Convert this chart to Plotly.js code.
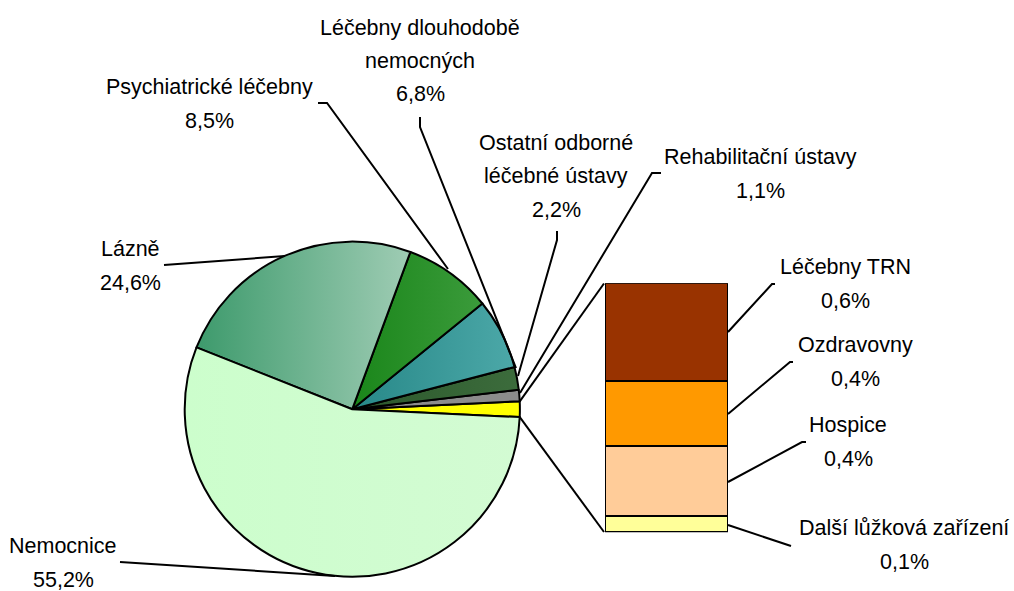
<!DOCTYPE html>
<html>
<head>
<meta charset="utf-8">
<script src="https://cdn.plot.ly/plotly-3.0.1.min.js"></script>
<style>
  html, body { margin: 0; padding: 0; background: #ffffff; }
  #chart { width: 1014px; height: 591px; }
</style>
</head>
<body>
<div id="chart"></div>
<script>
// ---- data ----
const pieLabels = ['Další (rozpad)', 'Rehabilitační ústavy', 'Ostatní odborné léčebné ústavy',
                   'Léčebny dlouhodobě nemocných', 'Psychiatrické léčebny', 'Lázně', 'Nemocnice'];
const pieValues = [null, 1.1, 2.2, 6.8, 8.5, 24.6, 55.2];   // first = sum of bar breakdown
const pieTextLines = [null, ['Rehabilitační ústavy'], ['Ostatní odborné', 'léčebné ústavy'],
                      ['Léčebny dlouhodobě', 'nemocných'], ['Psychiatrické léčebny'], ['Lázně'], ['Nemocnice']];

const barLabels = ['Další lůžková zařízení', 'Hospice', 'Ozdravovny', 'Léčebny TRN'];   // bottom → top
const barValues = [0.10, 0.42, 0.39, 0.59];

// ---- styles ----
const pieColors = ['#ffff00', '#8c8c8c', '#335f33', '#3a9b9b', '#2a8f2a', '#6db48f', '#ccffcc'];
const pieGrad = [null, null, ['#2c582c', '#3c6c3c'], ['#278888', '#4ca8a8'], ['#1a861a', '#3b9b3b'],
                 ['#3d9a6c', '#9fccb4'], ['#ccfecc', '#d3fbd3']];
const barColors = ['#ffff99', '#ffcc99', '#ff9900', '#993300'];

const W = 1014, H = 591;
const px = x => x / W;
const py = y => 1 - y / H;
const FONT = "'Liberation Sans Narrow', 'Arial Narrow', 'Liberation Sans', Arial, sans-serif";
const FSIZE = 21.5, LINE = 33.5, LW = 2;
const fmt = v => v.toFixed(1).replace('.', ',') + '%';

const restTotal = barValues.reduce((a, b) => a + b, 0);
const values = pieValues.slice();
values[0] = restTotal;
const grandTotal = values.reduce((a, b) => a + b, 0);
const rot = 90 - (restTotal / grandTotal) * 360 / 2;

// pie geometry (pixel)
const cx = 352.3, cy = 409.2, r = 167.6;

const traces = [{
  type: 'pie',
  labels: pieLabels,
  values: values,
  sort: false,
  direction: 'counterclockwise',
  rotation: rot,
  textinfo: 'none',
  hoverinfo: 'none',
  showlegend: false,
  marker: { colors: pieColors, line: { color: '#000000', width: LW } },
  domain: { x: [px(cx - r), px(cx + r)], y: [py(cy + r), py(cy - r)] }
}];

barLabels.forEach((lab, i) => {
  traces.push({
    type: 'bar',
    x: [0],
    y: [barValues[i]],
    name: lab,
    width: [1],
    xaxis: 'x',
    yaxis: 'y',
    hoverinfo: 'none',
    showlegend: false,
    marker: { color: barColors[i], line: { color: '#000000', width: LW } }
  });
});

// label annotations (pixel centres of text blocks), one annotation per text line
const pieLabelPos = [null, [760, 174], [556, 176], [420, 61], [209, 104], [130, 266], [63, 563]];
const barLabelPos = [[904, 545], [848, 442], [855, 362], [845, 284]];

const annotations = [];
function addBlock(lines, pos) {
  const n = lines.length;
  lines.forEach((t, k) => {
    annotations.push({
      xref: 'paper', yref: 'paper',
      x: px(pos[0]), y: py(pos[1] + (k - (n - 1) / 2) * LINE),
      xanchor: 'center', yanchor: 'middle', showarrow: false, align: 'center',
      text: t,
      font: { family: FONT, size: FSIZE, color: '#000000' }
    });
  });
}
pieTextLines.forEach((lines, i) => {
  if (!lines) return;
  addBlock(lines.concat([fmt(pieValues[i])]), pieLabelPos[i]);
});
barLabels.forEach((lab, i) => {
  addBlock([lab, fmt(barValues[i])], barLabelPos[i]);
});

// leader lines (pixel polylines)
const leaders = [
  [[318, 103], [327, 103], [448, 269]],
  [[420, 117], [420, 127], [516, 368]],
  [[557, 231], [557, 240], [518, 376]],
  [[661, 173], [652, 173], [520, 393]],
  [[164, 265], [285, 256]],
  [[120, 562], [335, 576]],
  [[728, 332], [772, 284], [775, 284]],
  [[728, 414], [790, 362], [793, 362]],
  [[728, 482], [802, 442], [806, 442]],
  [[728, 525], [791, 546]],
  [[519.6, 401.6], [604, 283.5]],
  [[519.6, 416.8], [604, 532]]
];
const shapes = leaders.map(pts => ({
  type: 'path', xref: 'paper', yref: 'paper',
  path: pts.map((p, k) => (k ? 'L' : 'M') + px(p[0]).toFixed(5) + ',' + py(p[1]).toFixed(5)).join(' '),
  line: { color: '#000000', width: LW }
}));

const layout = {
  width: W, height: H,
  margin: { l: 0, r: 0, t: 0, b: 0 },
  paper_bgcolor: '#ffffff', plot_bgcolor: 'rgba(0,0,0,0)',
  barmode: 'stack', bargap: 0,
  showlegend: false,
  xaxis: { domain: [px(605), px(728)], range: [-0.5, 0.5], visible: false, fixedrange: true },
  yaxis: { domain: [py(532.3), py(283.3)], range: [0, restTotal], visible: false, fixedrange: true },
  annotations: annotations,
  shapes: shapes,
  font: { family: FONT }
};

Plotly.newPlot('chart', traces, layout, { staticPlot: true, displayModeBar: false }).then(gd => {
  // horizontal shading on the pie slices
  const svg = gd.querySelector('.main-svg');
  const defs = svg.querySelector('defs');
  const NS = 'http://www.w3.org/2000/svg';
  const paths = gd.querySelectorAll('.pielayer .slice path.surface');
  paths.forEach((p, i) => {
    const g = pieGrad[i];
    if (!g) return;
    const lg = document.createElementNS(NS, 'linearGradient');
    lg.setAttribute('id', 'slicegrad' + i);
    lg.setAttribute('x1', '0'); lg.setAttribute('y1', '0');
    lg.setAttribute('x2', '1'); lg.setAttribute('y2', '0');
    g.forEach((c, k) => {
      const st = document.createElementNS(NS, 'stop');
      st.setAttribute('offset', k ? '1' : '0');
      st.setAttribute('stop-color', c);
      lg.appendChild(st);
    });
    defs.appendChild(lg);
    p.style.fill = 'url(#slicegrad' + i + ')';
  });
});
</script>
</body>
</html>
